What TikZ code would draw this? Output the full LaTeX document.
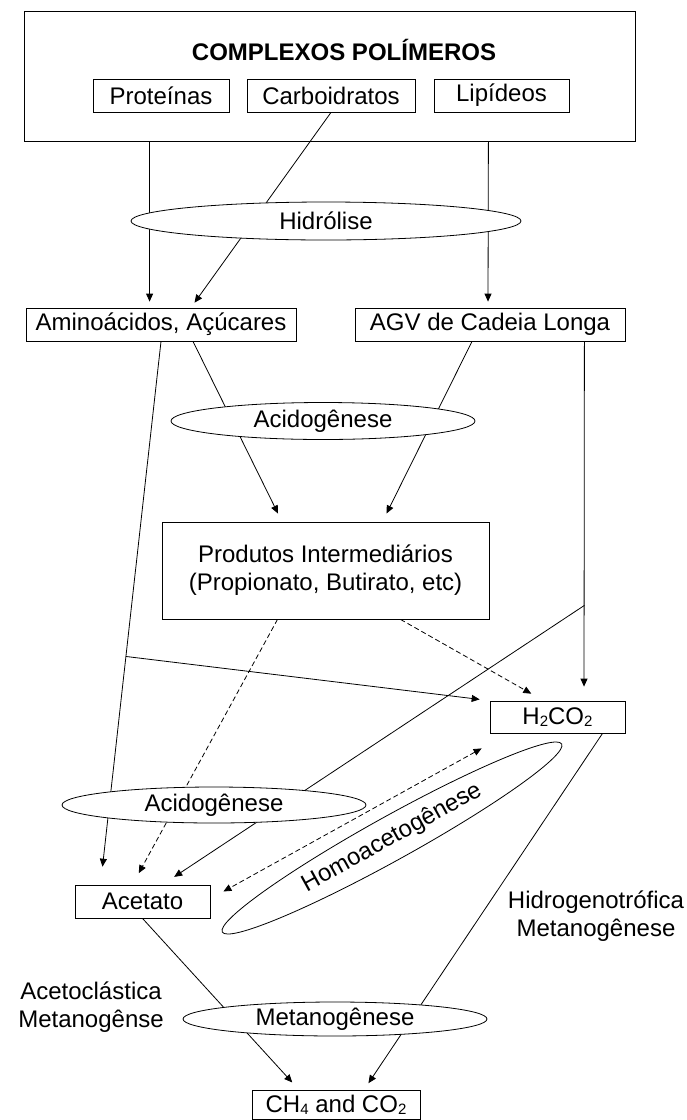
\documentclass[tikz,border=0pt]{standalone}
\usepackage{fontspec}
\setmainfont{Liberation Sans}
\usetikzlibrary{arrows.meta,shapes.geometric,calc}
\tikzset{>/.tip={Triangle[length=8pt,width=7pt]}}
\newcommand\chemsub[1]{\raisebox{-1.5pt}{\fontsize{15}{15}\selectfont#1}}

\begin{document}
\begin{tikzpicture}[x=1pt,y=-1pt,line width=0.8pt,
    font=\fontsize{24}{28}\selectfont,
    box/.style={draw,rectangle,inner sep=0pt},
    proc/.style={draw,ellipse,fill=white,inner sep=0pt},
    dsh/.style={dash pattern=on 5pt off 3pt}]
  \useasboundingbox (0,0) rectangle (686,1120);
  % boxes
  \node[box,minimum width=611pt,minimum height=130pt](poly) at (329.5,76){};
  \node(title) at (344,50){\bfseries COMPLEXOS POLÍMEROS};
  \node[box,minimum width=136pt,minimum height=33pt](prot) at (161,95.5){Proteínas};
  \node[box,minimum width=168pt,minimum height=33pt](carb) at (331,95.5){Carboidratos};
  \node[box,minimum width=135pt,minimum height=33pt](lip) at (501.5,95.5){Lipídeos};
  \node[box,minimum width=270pt,minimum height=33pt](amino) at (161,324.5){Aminoácidos, Açúcares};
  \node[box,minimum width=270pt,minimum height=33pt](agv) at (490,324.5){AGV de Cadeia Longa};
  \node[box,align=center,minimum width=327pt,minimum height=97pt](prod) at (325.5,570.5){Produtos Intermediários\\(Propionato, Butirato, etc)};
  \node[box,minimum width=135pt,minimum height=32pt](h2) at (557.5,717){H\chemsub{2}CO\chemsub{2}};
  \node[box,minimum width=135pt,minimum height=33pt](acet) at (142.5,901.5){Acetato};
  \node[box,minimum width=168pt,minimum height=29.5pt](ch4) at (336,1105){CH\chemsub{4} and CO\chemsub{2}};
  \node[align=center](hmeta) at (596,916){Hidrogenotrófica\\Metanogênese};
  \node[align=center](ameta) at (91,1007){Acetoclástica\\Metanogênse};
  % connectors
  \coordinate(br1) at ($(amino.south)!0.58!($(acet.north)+(-42,0)$)$);
  \coordinate(br2) at ($(agv.south east)+(-41,264)$);
  \draw[->,shorten >=6pt] ($(poly.south west)+(126,0)$) -- ($(amino.north west)+(124,0)$);
  \draw[->,shorten >=6pt] (carb.south) -- ($(amino.north)+(30,0)$);
  \draw[->,shorten >=6pt] ($(poly.south east)+(-147,0)$) -- ($(agv.north)+(-2,0)$);
  \draw[->,shorten >=9pt] ($(amino.south)+(32,0)$) -- ($(prod.north)+(-43.5,0)$);
  \draw[->,shorten >=9pt] ($(agv.south)+(-18,0)$) -- ($(prod.north)+(57,0)$);
  \draw[->,shorten >=18pt] (amino.south) -- ($(acet.north)+(-42,0)$);
  \draw[->,shorten >=10pt] (br1) -- (h2.north west);
  \draw[->,shorten >=14pt] ($(agv.south east)+(-41,0)$) -- ($(h2.north)+(26.5,0)$);
  \draw[->,shorten >=14pt] (br2) -- ($(acet.north)+(20,0)$);
  \draw[->,dsh,shorten >=13pt] ($(prod.south)+(-48,0)$) -- ($(acet.north)+(-10,0)$);
  \draw[->,dsh,shorten >=14pt] ($(prod.south)+(75,0)$) -- ($(h2.north)+(-14,0)$);
  \draw[<->,dsh] ($(h2.south west)+(-8,15)$) -- ($(acet.east)+(13,-10)$);
  \draw[->,shorten >=8pt] ($(h2.south)+(45,0)$) -- ($(ch4.north)+(28,0)$);
  \draw[->,shorten >=10pt] (acet.south) -- ($(ch4.north)+(-37,0)$);
  % stages
  \node[proc,minimum width=390pt,minimum height=38pt](hyd) at (326,221){Hidrólise};
  \node[proc,minimum width=304pt,minimum height=37pt](acidA) at (323,421){Acidogênese};
  \node[proc,minimum width=304pt,minimum height=36pt](acidB) at (214,805){Acidogênese};
  \node[proc,minimum width=388pt,minimum height=44pt,rotate=29](homo) at (392,838){Homoacetogênese};
  \node[proc,minimum width=304pt,minimum height=34pt](meta) at (335,1019){Metanogênese};
\end{tikzpicture}
\end{document}
